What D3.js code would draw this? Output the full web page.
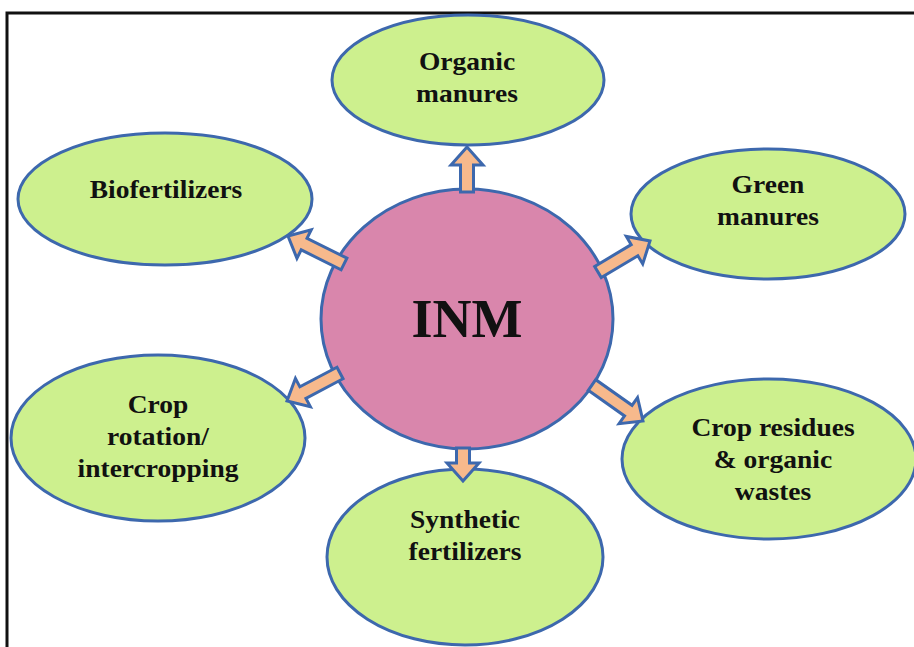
<!DOCTYPE html>
<html><head><meta charset="utf-8">
<script src="https://cdn.jsdelivr.net/npm/d3@7"></script>
<style>html,body{margin:0;padding:0;background:#fff;}svg{display:block;}</style>
</head><body>
<div id="chart"></div>
<script>
// Data
const centerLabel = "INM";
const nodeLabels = [
  ["Organic", "manures"],
  ["Green", "manures"],
  ["Crop residues", "& organic", "wastes"],
  ["Synthetic", "fertilizers"],
  ["Crop", "rotation/", "intercropping"],
  ["Biofertilizers"]
];
// layout (pixel geometry of ellipses)
const nodeCx = [468, 768, 769, 465, 158, 165];
const nodeCy = [80, 214, 459, 557, 438, 199];
const nodeRx = [136, 137, 147, 138, 147, 147];
const nodeRy = [65, 65, 80, 88, 83, 66];
const textCx = [467, 768, 773, 465, 158, 166];
const textCy = [78, 201, 460, 536, 437, 190];
// arrows: tail and tip
const arrowTail = [[467, 192], [598, 272], [592, 385], [463, 448], [340, 373], [344, 264]];
const arrowTip  = [[467, 147], [650, 241], [643, 421], [463, 481], [287, 401], [288, 236]];

const W = 914, H = 647;
const svg = d3.select("#chart").append("svg").attr("width", W).attr("height", H);

const green = "#cdf08e", blue = "#3d68ad", pink = "#d986ac", peach = "#f7b98c";

// frame
svg.append("rect").attr("x", 7).attr("y", 13).attr("width", 1000).attr("height", 1000)
  .attr("fill", "none").attr("stroke", "#111").attr("stroke-width", 3);

// central circle
svg.append("ellipse").attr("cx", 467).attr("cy", 319).attr("rx", 146).attr("ry", 130)
  .attr("fill", pink).attr("stroke", blue).attr("stroke-width", 3);
svg.append("text").attr("x", 467).attr("y", 319).attr("text-anchor", "middle")
  .attr("dominant-baseline", "central")
  .style("font-family", "'Liberation Serif', 'Times New Roman', serif")
  .style("font-weight", "bold").style("font-size", "54px").attr("fill", "#111")
  .text(centerLabel);

// ellipses
const nodes = nodeLabels.map((lines, i) => ({lines, i}));
svg.selectAll("ellipse.node").data(nodes).join("ellipse").attr("class", "node")
  .attr("cx", d => nodeCx[d.i]).attr("cy", d => nodeCy[d.i])
  .attr("rx", d => nodeRx[d.i]).attr("ry", d => nodeRy[d.i])
  .attr("fill", green).attr("stroke", blue).attr("stroke-width", 3);

// arrows
const shaftW = 13, headW = 32, headL = 18;
function arrowPath(t, p) {
  const dx = p[0] - t[0], dy = p[1] - t[1];
  const L = Math.hypot(dx, dy);
  const ux = dx / L, uy = dy / L, nx = -uy, ny = ux;
  const b = [p[0] - ux * headL, p[1] - uy * headL];
  const pts = [
    [t[0] + nx * shaftW / 2, t[1] + ny * shaftW / 2],
    [b[0] + nx * shaftW / 2, b[1] + ny * shaftW / 2],
    [b[0] + nx * headW / 2, b[1] + ny * headW / 2],
    p,
    [b[0] - nx * headW / 2, b[1] - ny * headW / 2],
    [b[0] - nx * shaftW / 2, b[1] - ny * shaftW / 2],
    [t[0] - nx * shaftW / 2, t[1] - ny * shaftW / 2]
  ];
  return d3.line()(pts) + "Z";
}
svg.selectAll("path.arrow").data(arrowTail.map((t, i) => ({t, p: arrowTip[i]}))).join("path")
  .attr("class", "arrow").attr("d", d => arrowPath(d.t, d.p))
  .attr("fill", peach).attr("stroke", blue).attr("stroke-width", 3).attr("stroke-linejoin", "miter");

// labels
const lineH = 32;
const g = svg.selectAll("g.lbl").data(nodes).join("g").attr("class", "lbl")
  .attr("transform", d => `translate(${textCx[d.i]},0) scale(1.1,1)`);
const t = g.append("text")
  .attr("text-anchor", "middle")
  .style("font-family", "'Liberation Serif', 'Times New Roman', serif")
  .style("font-weight", "bold").style("font-size", "25px").attr("fill", "#111");
t.each(function(d) {
  const n = d.lines.length;
  const y0 = textCy[d.i] - (n - 1) * lineH / 2;
  d3.select(this).selectAll("tspan").data(d.lines).join("tspan")
    .attr("x", 0).attr("y", (s, k) => y0 + k * lineH)
    .attr("dominant-baseline", "central").text(s => s);
});
</script>
</body></html>
